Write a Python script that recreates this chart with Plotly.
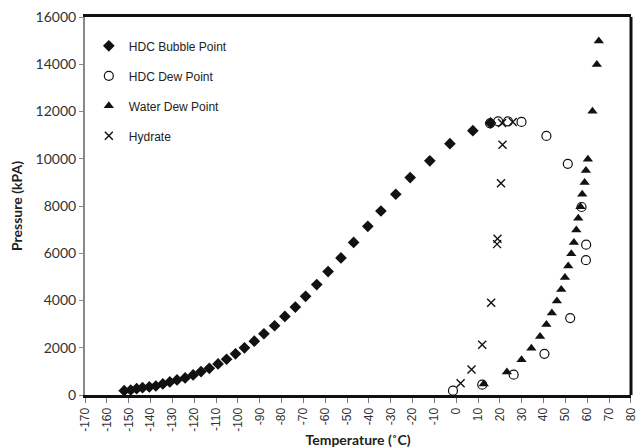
import plotly.graph_objects as go

# HDC Bubble Point
bub_T = [-152.1, -149.1, -146.4, -143.7, -140.6, -137.6, -134.4, -131.2, -127.9, -124.2,
         -120.5, -116.9, -113.1, -109.1, -105.2, -101.1, -97.0, -92.5, -88.1, -83.2,
         -78.5, -73.7, -69.0, -63.9, -58.7, -52.8, -47.0, -40.5, -34.5, -27.7,
         -21.1, -12.1, -2.9, 7.6, 15.7]
bub_P = [183, 212, 268, 310, 340, 382, 467, 552, 637, 722,
         850, 990, 1130, 1317, 1513, 1742, 1997, 2278, 2592, 2932,
         3327, 3722, 4177, 4674, 5226, 5804, 6458, 7138, 7789, 8498,
         9204, 9914, 10637, 11189, 11515]

# HDC Dew Point
dew_T = [-1.5, 11.9, 26.3, 40.4, 52.2, 59.4, 59.5, 57.4, 51.1, 41.3, 29.9, 23.7, 19.2, 15.5]
dew_P = [183, 437, 862, 1742, 3255, 5706, 6361, 7958, 9786, 10966, 11557, 11583, 11583, 11500]

# Water Dew Point
wat_T = [12.6, 23.2, 29.9, 34.4, 38.4, 41.3, 43.8, 46.1, 48.1, 49.8, 51.3, 52.7,
         53.9, 55.0, 55.9, 56.9, 57.7, 58.8, 59.4, 60.3, 62.4, 64.4, 65.3]
wat_P = [467, 970, 1487, 1980, 2477, 2987, 3467, 3977, 4461, 4971, 5464, 5974,
         6458, 6981, 7478, 7972, 8498, 8992, 9500, 9977, 12008, 13992, 14982]

# Hydrate
hyd_T = [2.0, 7.0, 11.9, 16.0, 18.7, 18.9, 20.5, 21.2, 21.0, 25.9]
hyd_P = [500, 1075, 2125, 3909, 6386, 6612, 8965, 10593, 11515, 11557]

x_ticks = list(range(-170, 81, 10))
y_ticks = list(range(0, 16001, 2000))

fig = go.Figure()
fig.add_trace(go.Scatter(x=bub_T, y=bub_P, mode="markers", name="HDC Bubble Point",
                         legendgroup="a",
                         marker=dict(symbol="diamond", size=9, color="#111111")))
fig.add_trace(go.Scatter(x=dew_T, y=dew_P, mode="markers", name="HDC Dew Point",
                         legendgroup="b",
                         marker=dict(symbol="circle-open", size=9, color="#111111",
                                     line=dict(width=1.2))))
fig.add_trace(go.Scatter(x=wat_T, y=wat_P, mode="markers", name="Water Dew Point",
                         legendgroup="c",
                         marker=dict(symbol="triangle-up", size=9, color="#111111")))
fig.add_trace(go.Scatter(x=hyd_T, y=hyd_P, mode="markers", name="Hydrate",
                         legendgroup="d",
                         marker=dict(symbol="x-thin-open", size=8, color="#111111",
                                     line=dict(width=1.4, color="#111111"))))

fig.update_layout(
    width=638, height=448,
    margin=dict(l=85, r=7, t=17, b=53),
    paper_bgcolor="white", plot_bgcolor="white",
    showlegend=True,
    legend=dict(x=0.007, y=0.962, xanchor="left", yanchor="top",
                font=dict(family="Liberation Sans, Arial", size=12, color="#222"),
                bgcolor="rgba(0,0,0,0)", tracegroupgap=11, itemwidth=30),
    xaxis=dict(range=[-170.05, 80.05], tickmode="array", tickvals=x_ticks,
               ticktext=[str(v) for v in x_ticks], tickangle=-90,
               tickfont=dict(family="Liberation Sans, Arial", size=12, color="#333"),
               ticklabeloverflow="allow",
               ticks="outside", ticklen=5, tickcolor="#777", tickwidth=1,
               showgrid=False, zeroline=False, automargin=False,
               showline=True, linecolor="#111", linewidth=3, mirror=True,
               title=dict(text="<b>Temperature (˚C)</b>",
                          font=dict(family="Lato, Open Sans", size=14, color="#222"),
                          standoff=8)),
    yaxis=dict(range=[0, 16000], tickmode="array", tickvals=y_ticks,
               ticktext=[str(v) for v in y_ticks],
               tickfont=dict(family="Lato, Open Sans", size=14, color="#333"),
               ticks="outside", ticklen=4, tickcolor="#888", tickwidth=1,
               showgrid=False, zeroline=False, automargin=False,
               showline=True, linecolor="#888", linewidth=2,
               title=dict(text="<b>Pressure (kPA)</b>",
                          font=dict(family="Lato, Open Sans", size=14, color="#222"),
                          standoff=10)),
    shapes=[dict(type="line", xref="paper", yref="paper", x0=1, x1=1, y0=0, y1=1,
                 line=dict(color="#111", width=3))],
)

fig.write_html("out.html")
